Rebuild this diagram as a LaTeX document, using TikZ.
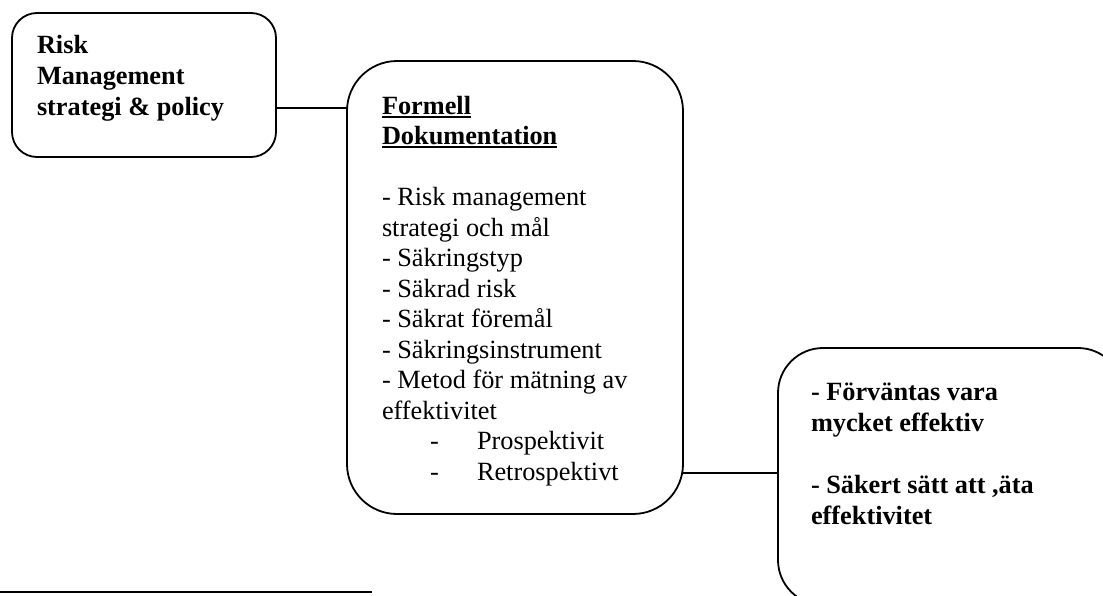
\documentclass[tikz,border=0pt]{standalone}
\usepackage{fontspec}
\setmainfont{Liberation Serif}
\newcommand\myul[1]{\setbox0\hbox{#1}\rlap{\raisebox{-3.6pt}{\rule{\wd0}{1.8pt}}}\box0}
\tikzset{
  box/.style={draw, line width=1.8pt, rounded corners=#1, anchor=north west,
    inner sep=0pt, outer sep=0pt},
  conn/.style={draw, line width=1.5pt},
  txt/.style={anchor=base west, inner sep=0pt, outer sep=0pt,
    font=\fontsize{26.3pt}{30.5pt}\selectfont},
  btxt/.style={txt, font=\fontsize{26.3pt}{31pt}\selectfont\bfseries},
}
\begin{document}
\begin{tikzpicture}[x=1pt,y=-1pt]
\useasboundingbox (0,0) rectangle (1103,595);
\clip (0,0) rectangle (1103,595);
% boxes
\node[box=25pt, minimum width=264pt, minimum height=144pt] (b1) at (12,13) {};
\node[box=50pt, minimum width=336pt, minimum height=453pt] (b2) at (347,61) {};
\node[box=45pt, minimum width=345pt, minimum height=257pt] (b3) at (778,348) {};
% texts
\node[btxt] (t1) at (37,53) {\vtop{\hbox{Risk}\hbox{Management}\hbox{strategi \& policy}}};
\node[txt] (t2) at (382,114) {\vtop{%
  \hbox{\bfseries\myul{Formell}}%
  \hbox{\bfseries\myul{Dokumentation}}%
  \hbox{}%
  \hbox{- Risk management}%
  \hbox{strategi och mål}%
  \hbox{- Säkringstyp}%
  \hbox{- Säkrad risk}%
  \hbox{- Säkrat föremål}%
  \hbox{- Säkringsinstrument}%
  \hbox{- Metod för mätning av}%
  \hbox{effektivitet}%
  \hbox{\kern48pt\rlap{-}\kern47pt Prospektivit}%
  \hbox{\kern48pt\rlap{-}\kern47pt Retrospektivt}}};
\node[btxt] (t3) at (811,400) {\vtop{%
  \hbox{- Förväntas vara}%
  \hbox{mycket effektiv}%
  \hbox{}%
  \hbox{- Säkert sätt att ,äta}%
  \hbox{effektivitet}}};
% connectors
\draw[conn] ([yshift=-23pt]b1.east) -- ([yshift=-23pt]b1.east -| b2.west);
\draw[conn] ([yshift=-185.5pt]b2.east) -- ([yshift=-185.5pt]b2.east -| b3.west);
% footnote rule
\draw[line width=2.3pt] (0,592) -- (372,592);
\end{tikzpicture}
\end{document}
